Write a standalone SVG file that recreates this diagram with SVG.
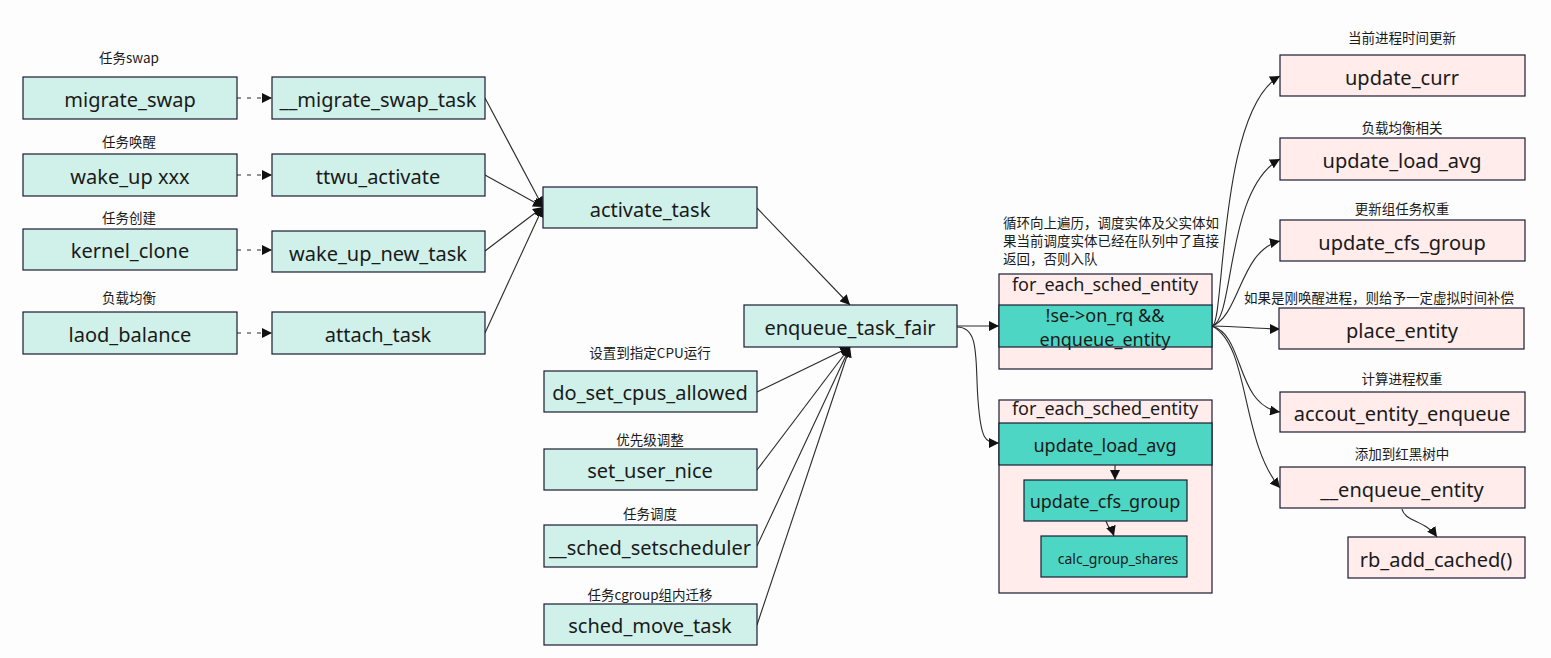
<svg xmlns="http://www.w3.org/2000/svg" width="1551" height="658" viewBox="0 0 1551 658">
<defs>
<style>
.bg{fill:#fdfdfd}
.g{fill:#d0f1e9;stroke:#1b1b33;stroke-width:1.2}
.p{fill:#ffeceb;stroke:#1b1b33;stroke-width:1.2}
.t{fill:#4dd6c4;stroke:#1b1b33;stroke-width:1.2}
.lbl{font-family:"Noto Sans","Liberation Sans",sans-serif;font-size:20px;fill:#1a1a1a;text-anchor:middle;dominant-baseline:central}
.sm{font-size:18px}
.xs{font-size:14px}
.cn{font-family:"Noto Sans CJK SC","Noto Sans",sans-serif;font-size:13.5px;fill:#1a1a1a;text-anchor:middle}
.cnl{text-anchor:start}
.c{fill:none;stroke:#2a2a2a;stroke-width:1.1}
.d{stroke-dasharray:4 6}
</style>
<marker id="ah" viewBox="0 0 10 10" refX="10" refY="5" markerWidth="10" markerHeight="10" markerUnits="userSpaceOnUse" orient="auto">
<path d="M0,0 L10,5 L0,10 z" fill="#111"/>
</marker>
</defs>
<rect class="bg" x="0" y="0" width="1551" height="658"/>

<g id="connectors">
<path class="c d" d="M237,98 L272,98" marker-end="url(#ah)"/>
<path class="c d" d="M237,175 L272,175" marker-end="url(#ah)"/>
<path class="c d" d="M237,250 L272,250" marker-end="url(#ah)"/>
<path class="c d" d="M237,333 L272,333" marker-end="url(#ah)"/>
<path class="c" d="M485,98 L543,207" marker-end="url(#ah)"/>
<path class="c" d="M485,175 L543,207" marker-end="url(#ah)"/>
<path class="c" d="M485,251 L543,207" marker-end="url(#ah)"/>
<path class="c" d="M485,333 L543,207" marker-end="url(#ah)"/>
<path class="c" d="M757,208 L850,305" marker-end="url(#ah)"/>
<path class="c" d="M757,392 L850,347" marker-end="url(#ah)"/>
<path class="c" d="M757,470 L850,347" marker-end="url(#ah)"/>
<path class="c" d="M757,546 L850,347" marker-end="url(#ah)"/>
<path class="c" d="M757,625 L850,347" marker-end="url(#ah)"/>
<path class="c" d="M957,326 L999,326" marker-end="url(#ah)"/>
<path class="c" d="M957,327 C980,327 975,360 978,400 C981,440 985,443 999,443" marker-end="url(#ah)"/>
<path class="c" d="M1212,326 C1225,326 1218,110 1280,76" marker-end="url(#ah)"/>
<path class="c" d="M1212,326 C1235,320 1225,190 1280,159" marker-end="url(#ah)"/>
<path class="c" d="M1212,326 C1240,316 1240,250 1280,241" marker-end="url(#ah)"/>
<path class="c" d="M1212,326 C1240,326 1255,329 1280,329" marker-end="url(#ah)"/>
<path class="c" d="M1212,326 C1245,335 1235,405 1280,412" marker-end="url(#ah)"/>
<path class="c" d="M1212,326 C1250,345 1240,440 1280,488" marker-end="url(#ah)"/>
<path class="c" d="M1402,509 C1405,522 1425,520 1437,537" marker-end="url(#ah)"/>
</g>

<g id="n-migrate_swap"><text class="cn" x="129" y="63">任务swap</text><rect class="g" x="23" y="77" width="214" height="42"/><text class="lbl" x="130" y="99">migrate_swap</text></g>
<g id="n-wake_up"><text class="cn" x="129" y="147">任务唤醒</text><rect class="g" x="23" y="154" width="214" height="42"/><text class="lbl" x="130" y="176">wake_up xxx</text></g>
<g id="n-kernel_clone"><text class="cn" x="129" y="223">任务创建</text><rect class="g" x="23" y="229" width="214" height="41"/><text class="lbl" x="130" y="250">kernel_clone</text></g>
<g id="n-laod_balance"><text class="cn" x="129" y="303">负载均衡</text><rect class="g" x="23" y="312" width="214" height="42"/><text class="lbl" x="130" y="334">laod_balance</text></g>

<g id="n-migrate_swap_task"><rect class="g" x="272" y="77" width="213" height="42"/><text class="lbl" x="378" y="99">__migrate_swap_task</text></g>
<g id="n-ttwu_activate"><rect class="g" x="272" y="154" width="213" height="42"/><text class="lbl" x="378" y="176">ttwu_activate</text></g>
<g id="n-wake_up_new_task"><rect class="g" x="272" y="231" width="213" height="41"/><text class="lbl" x="378" y="253">wake_up_new_task</text></g>
<g id="n-attach_task"><rect class="g" x="272" y="312" width="213" height="42"/><text class="lbl" x="378" y="334">attach_task</text></g>

<g id="n-activate_task"><rect class="g" x="543" y="187" width="214" height="41"/><text class="lbl" x="650" y="209">activate_task</text></g>
<g id="n-enqueue_task_fair"><rect class="g" x="744" y="305" width="213" height="42"/><text class="lbl" x="850" y="327">enqueue_task_fair</text></g>

<g id="n-do_set_cpus_allowed"><text class="cn" x="650" y="358">设置到指定CPU运行</text><rect class="g" x="544" y="371" width="213" height="41"/><text class="lbl" x="650" y="392">do_set_cpus_allowed</text></g>
<g id="n-set_user_nice"><text class="cn" x="650" y="445">优先级调整</text><rect class="g" x="544" y="449" width="213" height="41"/><text class="lbl" x="650" y="470">set_user_nice</text></g>
<g id="n-sched_setscheduler"><text class="cn" x="650" y="519">任务调度</text><rect class="g" x="544" y="525" width="213" height="42"/><text class="lbl" x="650" y="547">__sched_setscheduler</text></g>
<g id="n-sched_move_task"><text class="cn" x="650" y="600">任务cgroup组内迁移</text><rect class="g" x="544" y="604" width="213" height="41"/><text class="lbl" x="650" y="625">sched_move_task</text></g>

<g id="n-loop1">
<text class="cn cnl" x="1003" y="228">循环向上遍历，调度实体及父实体如</text>
<text class="cn cnl" x="1003" y="246">果当前调度实体已经在队列中了直接</text>
<text class="cn cnl" x="1003" y="264">返回，否则入队</text>
<rect class="p" x="999" y="274" width="213" height="95"/>
<rect class="t" x="999" y="305" width="213" height="42"/>
<text class="lbl sm" x="1105" y="284">for_each_sched_entity</text>
<text class="lbl sm" x="1105" y="315">!se-&gt;on_rq &amp;&amp;</text>
<text class="lbl sm" x="1105" y="339">enqueue_entity</text>
</g>

<g id="n-loop2">
<rect class="p" x="999" y="400" width="213" height="193"/>
<rect class="t" x="999" y="423" width="213" height="42"/>
<text class="lbl sm" x="1105" y="408">for_each_sched_entity</text>
<text class="lbl sm" x="1105" y="445">update_load_avg</text>
<rect class="t" x="1024" y="480" width="163" height="41"/>
<text class="lbl sm" x="1105" y="501">update_cfs_group</text>
<rect class="t" x="1041" y="536" width="146" height="41"/>
<text class="lbl xs" x="1118" y="558">calc_group_shares</text>
<path class="c" d="M1115,465 L1115,480" marker-end="url(#ah)"/>
<path class="c" d="M1106,521 C1108,528 1112,530 1114,536" marker-end="url(#ah)"/>
</g>

<g id="n-update_curr"><text class="cn" x="1402" y="43">当前进程时间更新</text><rect class="p" x="1280" y="55" width="245" height="41"/><text class="lbl" x="1402" y="77">update_curr</text></g>
<g id="n-update_load_avg"><text class="cn" x="1402" y="133">负载均衡相关</text><rect class="p" x="1280" y="138" width="245" height="42"/><text class="lbl" x="1402" y="160">update_load_avg</text></g>
<g id="n-update_cfs_group"><text class="cn" x="1402" y="214">更新组任务权重</text><rect class="p" x="1280" y="220" width="245" height="41"/><text class="lbl" x="1402" y="242">update_cfs_group</text></g>
<g id="n-place_entity"><text class="cn" x="1379" y="303">如果是刚唤醒进程，则给予一定虚拟时间补偿</text><rect class="p" x="1279" y="308" width="245" height="41"/><text class="lbl" x="1402" y="330">place_entity</text></g>
<g id="n-accout_entity_enqueue"><text class="cn" x="1402" y="384">计算进程权重</text><rect class="p" x="1280" y="392" width="245" height="40"/><text class="lbl" x="1402" y="413">accout_entity_enqueue</text></g>
<g id="n-enqueue_entity"><text class="cn" x="1402" y="459">添加到红黑树中</text><rect class="p" x="1280" y="467" width="245" height="41"/><text class="lbl" x="1402" y="489">__enqueue_entity</text></g>
<g id="n-rb_add_cached"><rect class="p" x="1348" y="537" width="177" height="41"/><text class="lbl" x="1436" y="559">rb_add_cached()</text></g>
</svg>
